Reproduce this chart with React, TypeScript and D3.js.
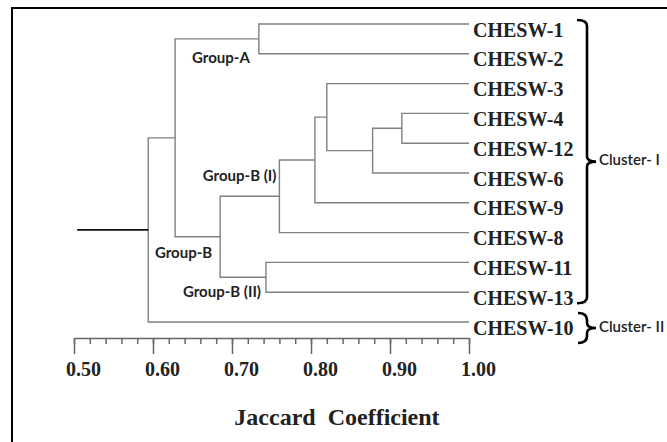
import React from 'react';
import * as d3 from 'd3';

// leaf order top to bottom
const leaves = ['CHESW-1', 'CHESW-2', 'CHESW-3', 'CHESW-4', 'CHESW-12', 'CHESW-6', 'CHESW-9', 'CHESW-8', 'CHESW-11', 'CHESW-13', 'CHESW-10'];

// merges: two children joined at a Jaccard similarity
const merges = [
  { id: 'n1', a: 'CHESW-4', b: 'CHESW-12', h: 0.915 },
  { id: 'n2', a: 'n1', b: 'CHESW-6', h: 0.878 },
  { id: 'n3', a: 'CHESW-3', b: 'n2', h: 0.82 },
  { id: 'n4', a: 'n3', b: 'CHESW-9', h: 0.805 },
  { id: 'n5', a: 'n4', b: 'CHESW-8', h: 0.76 },
  { id: 'n6', a: 'CHESW-11', b: 'CHESW-13', h: 0.743 },
  { id: 'n7', a: 'CHESW-1', b: 'CHESW-2', h: 0.734 },
  { id: 'n8', a: 'n5', b: 'n6', h: 0.685 },
  { id: 'n9', a: 'n7', b: 'n8', h: 0.628 },
  { id: 'n10', a: 'n9', b: 'CHESW-10', h: 0.594 },
];
const rootStart = 0.504;

const groupLabels = [
  { text: 'Group-A', node: 'n7' },
  { text: 'Group-B (I)', node: 'n5' },
  { text: 'Group-B', node: 'n8' },
  { text: 'Group-B (II)', node: 'n6' },
];

const clusters = [
  { name: 'Cluster- I', from: 'CHESW-1', to: 'CHESW-13' },
  { name: 'Cluster- II', from: 'CHESW-10', to: 'CHESW-10' },
];

const majorTicks = [0.5, 0.6, 0.7, 0.8, 0.9, 1.0];
const minorTicks = d3.range(0, 26).map(i => +(0.5 + i * 0.02).toFixed(2));

// label offsets relative to their node
const labelOffset = {
  n7: [-9, 20],
  n5: [-3, -19],
  n8: [-8, 17],
  n6: [-5, 16],
};

export default function App() {
  const x = d3.scaleLinear().domain([0.5, 1.0]).range([74, 469]);
  const y = d3.scalePoint().domain(leaves).range([24, 322]);

  const pos = {};
  leaves.forEach(l => { pos[l] = { x: x(1.0), y: y(l) }; });
  const links = [];
  merges.forEach(m => {
    const a = pos[m.a];
    const b = pos[m.b];
    const nx = x(m.h);
    pos[m.id] = { x: nx, y: (a.y + b.y) / 2 };
    links.push(`M${a.x},${a.y}H${nx}V${b.y}H${b.x}`);
  });
  const root = pos[merges[merges.length - 1].id];

  const axisY = 338;
  const axisRef = React.useRef(null);
  React.useEffect(() => {
    const g = d3.select(axisRef.current);
    g.selectAll('*').remove();
    const minor = g.append('g').call(d3.axisBottom(x).tickValues(minorTicks).tickSize(6).tickSizeOuter(0).tickFormat(() => ''));
    const major = g.append('g').call(d3.axisBottom(x).tickValues(majorTicks).tickSize(16).tickSizeOuter(0).tickPadding(8).tickFormat(d3.format('.2f')));
    [minor, major].forEach(s => {
      s.selectAll('path, line').attr('stroke', '#666').attr('stroke-width', 1.5);
    });
    major.select('.domain').remove();
    major.selectAll('text')
      .attr('dx', 9)
      .attr('font-family', '"Liberation Serif", "Times New Roman", serif')
      .attr('font-weight', 'bold')
      .attr('font-size', 20)
      .attr('fill', '#222');
  }, []);

  const bx = 587;
  const bracketPath = (c) => {
    const t = y(c.from);
    const b = y(c.to);
    if (c.from === c.to) {
      const m = t + 6;
      return `M578,${m - 15}Q${bx},${m - 15} ${bx},${m - 8}V${m - 5}Q${bx},${m} ${bx + 9},${m}Q${bx},${m} ${bx},${m + 5}V${m + 8}Q${bx},${m + 15} 578,${m + 15}`;
    }
    const top = t - 4;
    const bot = b + 11;
    const m = (top + bot) / 2;
    return `M577,${top}Q${bx},${top} ${bx},${top + 6}V${m - 5}Q${bx},${m} ${bx + 9},${m}Q${bx},${m} ${bx},${m + 5}V${bot - 6}Q${bx},${bot} 577,${bot}`;
  };

  return (
    <svg width={667} height={442} style={{ position: 'absolute', left: 0, top: 0, background: '#fff' }}>
      <rect x={12} y={8} width={700} height={500} fill="#fff" stroke="#000" strokeWidth={2} />
      {links.map((d, i) => (
        <path key={i} d={d} fill="none" stroke="#808080" strokeWidth={1.4} />
      ))}
      <line x1={x(rootStart)} x2={root.x} y1={root.y} y2={root.y} stroke="#111" strokeWidth={1.8} />
      {leaves.map(l => (
        <text key={l} x={473} y={y(l) + 12.5} fontFamily='"Liberation Serif", "Times New Roman", serif' fontWeight="bold" fontSize={20} fill="#222">{l}</text>
      ))}
      {groupLabels.map(g => {
        const p = pos[g.node];
        const o = labelOffset[g.node];
        return (
          <text key={g.text} x={p.x + o[0]} y={p.y + o[1]} textAnchor="end" dominantBaseline="middle" fontFamily="Lato, Calibri, sans-serif" fontWeight="bold" fontSize={15} fill="#222">{g.text}</text>
        );
      })}
      {clusters.map(c => {
        const d = bracketPath(c);
        const m = c.from === c.to ? y(c.from) + 6 : (y(c.from) - 4 + y(c.to) + 11) / 2;
        return (
          <g key={c.name}>
            <path d={d} fill="none" stroke="#000" strokeWidth={2.6} />
            <text x={599} y={m} dominantBaseline="middle" fontFamily="Lato, Calibri, sans-serif" fontWeight={600} fontSize={15} fill="#222">{c.name}</text>
          </g>
        );
      })}
      <g ref={axisRef} transform={`translate(0,${axisY})`} />
      <text x={337} y={425} textAnchor="middle" fontFamily='"Liberation Serif", "Times New Roman", serif' fontWeight="bold" fontSize={24} fill="#222" style={{ whiteSpace: 'pre' }}>{'Jaccard  Coefficient'}</text>
    </svg>
  );
}
